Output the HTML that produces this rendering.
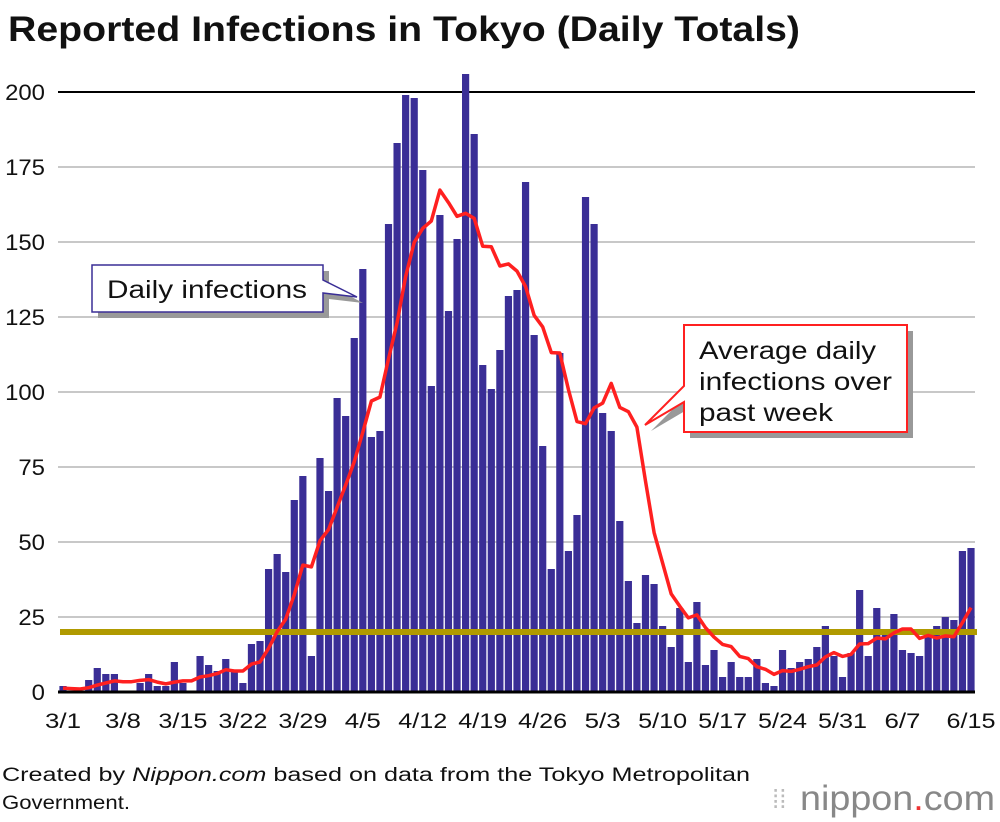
<!DOCTYPE html>
<html><head><meta charset="utf-8"><style>
body{margin:0;width:1000px;height:822px;background:#fff;font-family:"Liberation Sans",Arial,sans-serif;overflow:hidden;position:relative}
</style></head><body>
<svg id="chart" width="1000" height="822" style="position:absolute;left:0;top:0" font-family="Liberation Sans, Arial, sans-serif">
<text x="8" y="41" font-size="35" font-weight="bold" fill="#111" textLength="792" lengthAdjust="spacingAndGlyphs">Reported Infections in Tokyo (Daily Totals)</text>
<text x="2" y="781" font-size="19" fill="#111" textLength="748" lengthAdjust="spacingAndGlyphs">Created by <tspan font-style="italic">Nippon.com</tspan> based on data from the Tokyo Metropolitan</text>
<text x="2" y="809" font-size="19" fill="#111" textLength="128" lengthAdjust="spacingAndGlyphs">Government.</text>
<text x="800" y="810" font-size="35" fill="#888" textLength="195" lengthAdjust="spacingAndGlyphs">nippon<tspan fill="#e33">.</tspan>com</text>
<text x="772" y="808" font-size="26" fill="#bbb">⁞⁞</text>
</svg>
<script>
const daily=[2,0,0,4,8,6,6,0,0,3,6,2,2,10,3,0,12,9,7,11,7,3,16,17,41,46,40,64,72,12,78,67,98,92,118,141,
85,87,156,183,199,198,174,102,159,127,151,206,186,109,101,114,132,134,170,119,82,41,113,47,59,165,156,93,87,57,37,
23,39,36,22,15,28,10,30,9,14,5,10,5,5,11,3,2,14,8,10,11,15,22,12,5,13,34,12,28,20,26,14,13,12,19,22,25,24,47,48];
const yTicks=[0,25,50,75,100,125,150,175,200];
const xTickLabels=["3/1","3/8","3/15","3/22","3/29","4/5","4/12","4/19","4/26","5/3","5/10","5/17","5/24","5/31","6/7","6/15"];
const xTickDays=[0,7,14,21,28,35,42,49,56,63,70,77,84,91,98,106];
const threshold=20;
const priorDays=[1,1,1,2,1,1];

const svg=document.getElementById('chart');
const NS='http://www.w3.org/2000/svg';
const X0=63,DX=(971-63)/106,Y0=692,YS=3;
const x=d=>X0+d*DX, y=v=>Y0-v*YS;
function mk(t,a){const e=document.createElementNS(NS,t);for(const k in a)e.setAttribute(k,a[k]);svg.appendChild(e);return e;}
yTicks.forEach(v=>{
 const l=mk('line',{x1:58,x2:975,y1:y(v),y2:y(v),stroke:v===200?'#000':(v===0?'#000':'#c8c8c8'),'stroke-width':v===0?3:2});
 
 
 const s=String(v);
 const t=mk('text',{x:45,y:y(v)+8,'text-anchor':'end','font-size':22,fill:'#111',textLength:s.length*13.3,lengthAdjust:'spacingAndGlyphs'});t.textContent=s;
 
 
});
xTickLabels.forEach((s,i)=>{
 const t=mk('text',{x:x(xTickDays[i]),y:728,'text-anchor':'middle','font-size':21,fill:'#111',textLength:s.length*13-3,lengthAdjust:'spacingAndGlyphs'});t.textContent=s;
 
 
});
daily.forEach((v,i)=>{
 if(v<=0)return;
 const r=mk('rect',{x:x(i)-3.6,y:y(v),width:7.2,height:v*YS,fill:'#3a2e96'});
 
 
});
const th=mk('line',{x1:60,x2:977,y1:y(threshold),y2:y(threshold),stroke:'#b09a00','stroke-width':6});


const all=priorDays.concat(daily);
const avg=daily.map((v,i)=>{let s=0;for(let k=0;k<7;k++)s+=all[i+6-k];return s/7;});
const pts=avg.map((v,i)=>x(i).toFixed(1)+','+y(v).toFixed(1)).join(' ');
const pl=mk('polyline',{points:pts,fill:'none',stroke:'#ff2020','stroke-width':3.5,'stroke-linejoin':'round'});


mk('line',{x1:58,x2:975,y1:Y0,y2:Y0,stroke:'#000','stroke-width':3});
const g1=mk('g',{});


g1.innerHTML='<path d="M98,271 H329 V285 L363,303 L329,299 V318 H98 Z" fill="#999"/><path d="M92,265 H323 V280 L357,297 L323,293 V312 H92 Z" fill="#fff" stroke="#3a2e96" stroke-width="1.5"/><text x="107" y="298" font-size="25" fill="#111" textLength="200" lengthAdjust="spacingAndGlyphs">Daily infections</text>';
const g2=mk('g',{});


g2.innerHTML='<path d="M690,331 H913 V438 H690 V408 L651,431 L690,392 Z" fill="#999"/><path d="M684,325 H907 V432 H684 V402 L645,425 L684,386 Z" fill="#fff" stroke="#ff2020" stroke-width="2"/><text font-size="25" fill="#111"><tspan x="699" y="359" textLength="177" lengthAdjust="spacingAndGlyphs">Average daily</tspan><tspan x="699" y="390" textLength="193" lengthAdjust="spacingAndGlyphs">infections over</tspan><tspan x="699" y="421" textLength="134" lengthAdjust="spacingAndGlyphs">past week</tspan></text>';
</script>
</body></html>
